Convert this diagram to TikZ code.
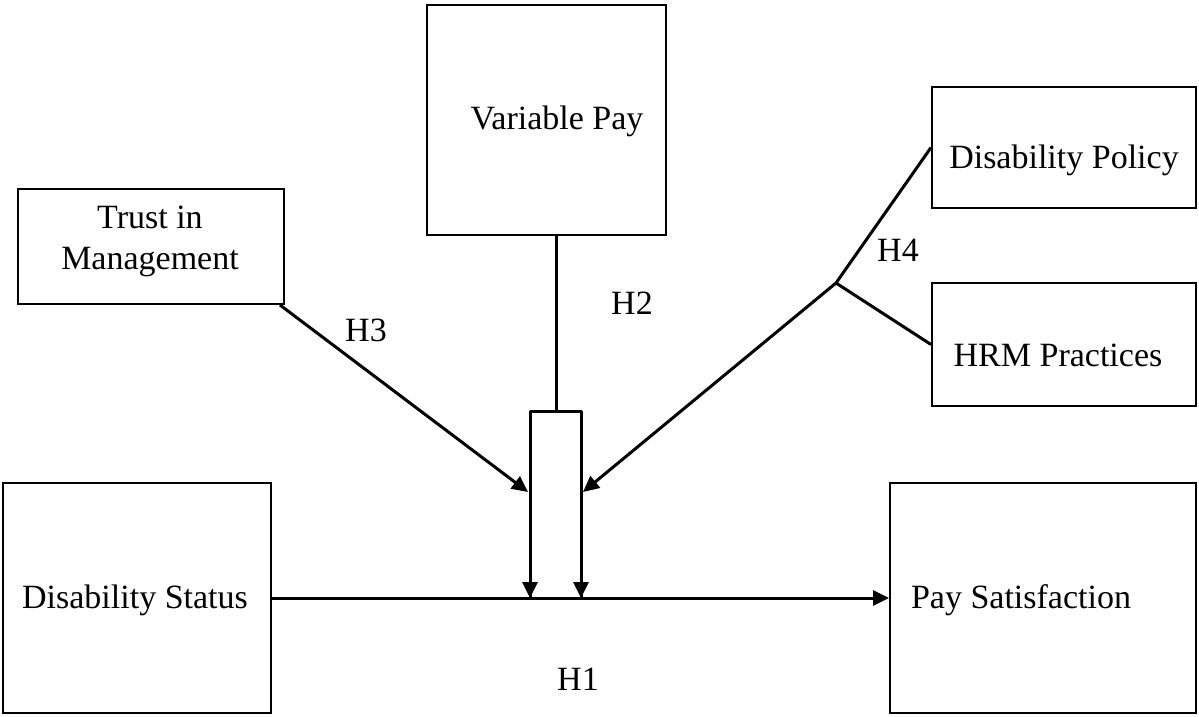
\documentclass[tikz,border=0pt]{standalone}
\usepackage{fontspec}
\setmainfont{Liberation Serif}
\usetikzlibrary{arrows.meta,calc}
\begin{document}
\begin{tikzpicture}[x=1pt,y=-1pt,
  box/.style={draw,line width=2pt,rectangle,inner sep=0pt},
  txt/.style={align=center,inner sep=0pt,font=\fontsize{34}{41}\selectfont},
  conn/.style={line width=3pt},
  arr/.style={conn,-{Triangle[length=16pt,width=15pt]}},
  lab/.style={font=\fontsize{34}{40}\selectfont,inner sep=0pt}]
\useasboundingbox (0,0) rectangle (1199,716);
\node[box,minimum width=239pt,minimum height=230pt] (vp) at (546.5,120) {};
\node[box,minimum width=266pt,minimum height=115pt] (tm) at (151,246.5) {};
\node[box,minimum width=264pt,minimum height=121pt] (dp) at (1064,147.5) {};
\node[box,minimum width=264pt,minimum height=123pt] (hrm) at (1064,344.5) {};
\node[box,minimum width=268pt,minimum height=230pt] (ds) at (137,598) {};
\node[box,minimum width=306pt,minimum height=230pt] (ps) at (1043,598) {};
\node[txt] (vpt) at (557,121) {Variable Pay};
\node[txt] (tmt) at (150,241) {Trust in\\Management};
\node[txt] (dpt) at (1064,160) {Disability Policy};
\node[txt] (hrmt) at (1058,355) {HRM Practices};
\node[txt] (dst) at (135,600) {Disability Status};
\node[txt] (pst) at (1021,600) {Pay Satisfaction};
% moderator frame
\coordinate (mtop) at (556,411);
\coordinate (mtl) at (530,411);
\coordinate (mtr) at (581,411);
\coordinate (mbl) at (530,598);
\coordinate (mbr) at (581,598);
\coordinate (ml) at (528,492);
\coordinate (mr) at (583,492);
\coordinate (j) at (836,283);
\draw[arr] (ds.east) -- (ps.west);
\draw[conn] (vp.south -| mtop) -- (mtop);
\draw[conn,line join=round] (mbl) -- (mtl) -- (mtr) -- (mbr);
\draw[arr] (mtl) -- (mbl);
\draw[arr] (mtr) -- (mbr);
\draw[arr] (tm.south east) ++(-5,0) -- (ml);
\draw[conn] (dp.west) -- (j);
\draw[conn] (j) -- (hrm.west);
\draw[arr] (j) -- (mr);
\node[lab] (h1) at (578,679) {H1};
\node[lab] (h2) at (632,303) {H2};
\node[lab] (h3) at (366,330) {H3};
\node[lab] (h4) at (898,250) {H4};
\end{tikzpicture}
\end{document}
